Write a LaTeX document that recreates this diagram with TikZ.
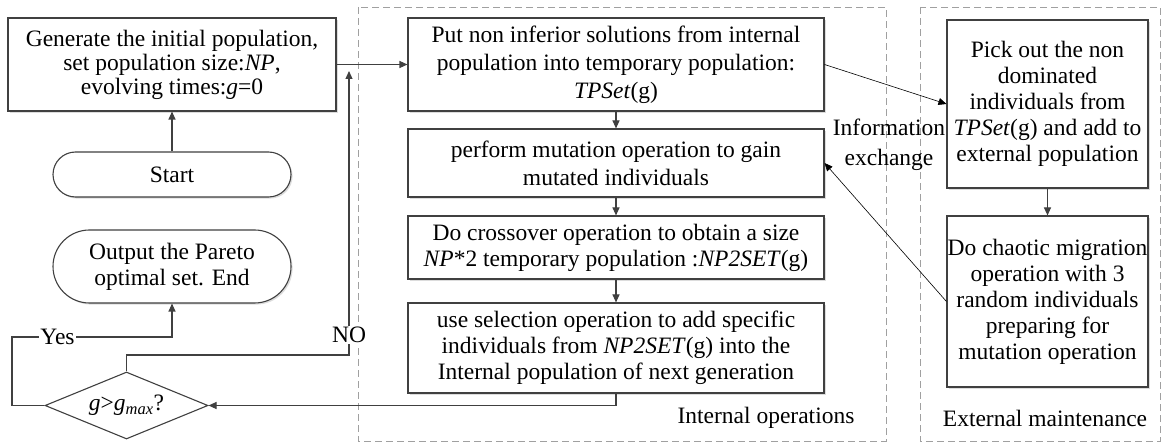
\documentclass[tikz,border=0pt]{standalone}
\usepackage{fontspec}
\setmainfont{Liberation Serif}
\usetikzlibrary{arrows.meta,shapes.geometric,shapes.misc,shadows}
\definecolor{edge}{HTML}{404040}
\definecolor{dashc}{HTML}{A0A0A0}
\begin{document}
\begin{tikzpicture}[x=1pt,y=-1pt,
  font=\fontsize{23.5}{26}\selectfont,
  shd/.style={drop shadow={shadow xshift=1.6pt,shadow yshift=-1.6pt,fill=black!30,opacity=0.45}},
  procbox/.style={draw=edge,line width=1.1pt,fill=white,shd,align=center,inner sep=0pt},
  termbox/.style={draw=edge,line width=1.1pt,fill=white,shd,rounded rectangle,align=center,inner sep=0pt},
  decbox/.style={draw=edge,line width=1.1pt,fill=white,diamond,aspect=2.43,inner sep=0pt,minimum width=163pt,minimum height=67pt},
  flow/.style={draw=edge,line width=1.1pt,-{Triangle[length=8pt,width=7pt]}},
  info/.style={draw=black,line width=0.6pt,-{Triangle[length=8pt,width=7pt]}},
  region/.style={draw=dashc,line width=0.9pt,dash pattern=on 7pt off 4pt},
  lbl/.style={fill=white,inner sep=1pt}]
\useasboundingbox (0,0) rectangle (1161,443);
% regions
\draw[region] (358,7) rectangle (886,441);
\draw[region] (920,7) rectangle (1160,441);
\node (intlab) at (766,418) {Internal operations};
\node (extlab) at (1045,418) {External maintenance};
% left column
\node[procbox,minimum width=328pt,minimum height=93pt,font=\fontsize{23.5}{24}\selectfont] (init) at (172,64.5)
  {Generate the initial population,\\ set population size:\textit{NP},\\ evolving times:\textit{g}=0};
\node[termbox,minimum width=238pt,minimum height=45pt] (start) at (172,174.5) {Start};
\node[termbox,minimum width=238pt,minimum height=73pt] (out) at (172,266.5) {Output the Pareto\\ optimal set. End};
\node[decbox] (dec) at (126.5,405.5) {\textit{g}>\textit{g}\textsubscript{\textit{max}}?};
% internal operations
\node[procbox,minimum width=416pt,minimum height=93pt,font=\fontsize{23.5}{28}\selectfont] (tps) at (616,64.5)
  {Put non inferior solutions from internal\\ population into temporary population:\\ \textit{TPSet}(g)};
\node[procbox,minimum width=416pt,minimum height=68pt,font=\fontsize{23.5}{28}\selectfont] (mut) at (616,163)
  {perform mutation operation to gain\\ mutated individuals};
\node[procbox,minimum width=416pt,minimum height=63pt] (cro) at (616,247.5)
  {Do crossover operation to obtain a size\\ \textit{NP}*2 temporary population :\textit{NP2SET}(g)};
\node[procbox,minimum width=416pt,minimum height=90pt] (sel) at (616,348)
  {use selection operation to add specific\\ individuals from \textit{NP2SET}(g) into the\\ Internal population of next generation};
% external maintenance
\node[procbox,minimum width=201pt,minimum height=168pt] (pick) at (1047.5,104)
  {Pick out the non\\ dominated\\ individuals from\\ \textit{TPSet}(g) and add to\\ external population};
\node[procbox,minimum width=201pt,minimum height=171pt] (chaos) at (1047.5,301.5)
  {Do chaotic migration\\ operation with 3\\ random individuals\\ preparing for\\ mutation operation};
\node[font=\fontsize{23.5}{30}\selectfont,align=center] (infolab) at (889,145) {Information\\ exchange};
% connectors
\coordinate (noend) at (349,71);
\draw[flow] (start.north) -- (init.south);
\draw[flow] (init.east) -- (tps.west);
\draw[flow] (tps.south) -- (mut.north);
\draw[flow] (mut.south) -- (cro.north);
\draw[flow] (cro.south) -- (sel.north);
\draw[flow] (sel.south) -- (616,405.5) -- (dec.east);
\draw[flow] (dec.north) -- (126.5,355) -- (349,355) -- (noend);
\node[lbl] (nolab) at (349,335) {NO};
\draw[flow] (dec.west) -- (12,405.5) -- (12,337) -- (172,337) -- (out.south);
\node[lbl] (yeslab) at (57.5,337) {Yes};
\draw[flow] (pick.south) -- (chaos.north);
\draw[info] (tps.east) -- (pick.west);
\draw[info] (chaos.west) -- (mut.east);
\end{tikzpicture}
\end{document}
